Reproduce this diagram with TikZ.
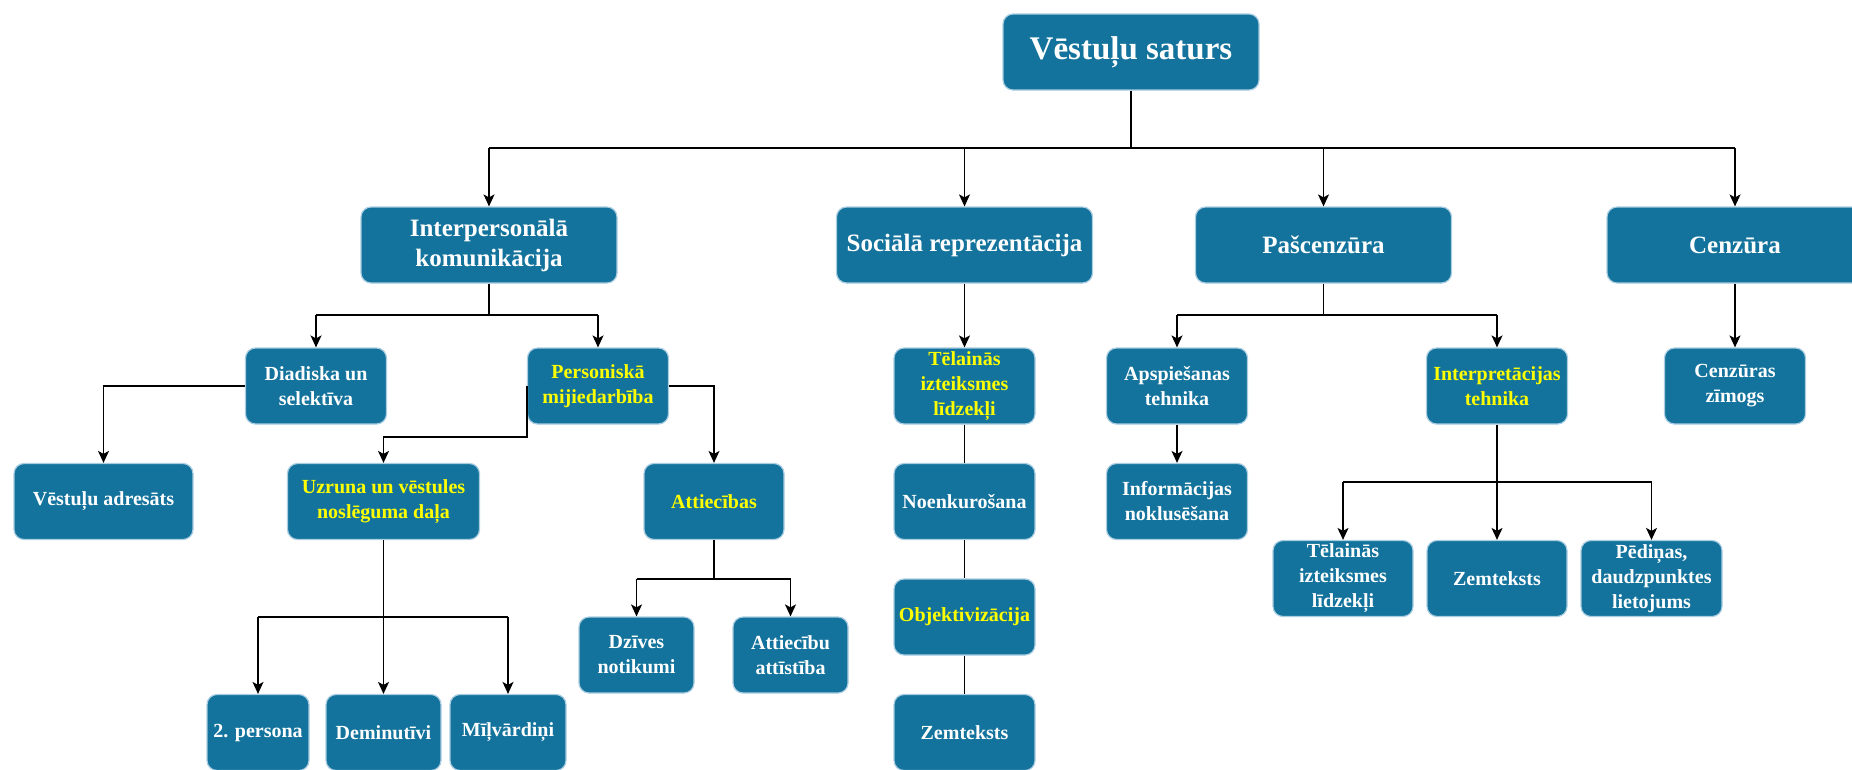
\documentclass[tikz,border=0pt]{standalone}
\usepackage{fontspec}
\setmainfont{Liberation Serif}
\usetikzlibrary{arrows.meta}
\definecolor{boxfill}{RGB}{19,115,156}
\definecolor{boxedge}{RGB}{170,205,225}
\definecolor{hl}{RGB}{255,255,0}
\tikzset{
  box/.style={draw=boxedge, fill=boxfill, rounded corners=10pt, line width=1.2pt,
    text=white, font=\bfseries\fontsize{20}{25}\selectfont, align=center, inner sep=0pt,
    minimum height=76pt},
  big/.style={font=\bfseries\fontsize{25}{30}\selectfont, minimum width=256pt},
  yel/.style={text=hl},
  arr/.style={-{Stealth[length=12pt,width=11pt,inset=3pt]}, line width=1.4pt},
  ln/.style={line width=1.4pt}
}
\begin{document}
\begin{tikzpicture}[x=1pt,y=-1pt]
\useasboundingbox (0,0) rectangle (1852,769);
\clip (0,0) rectangle (1852,769);
% root
\node[box, font=\bfseries\fontsize{33}{38}\selectfont, minimum width=256pt] (root) at (1131,52) {Vēstuļu saturs};
% level 1
\node[box,big] (inter) at (489,245) {Interpersonālā\\komunikācija};
\node[box,big] (soc) at (964.5,245) {Sociālā reprezentācija};
\node[box,big] (pas) at (1323.5,245) {Pašcenzūra};
\node[box,big] (cen) at (1735,245) {Cenzūra};
% level 2
\node[box, minimum width=141pt] (diad) at (316,386) {Diadiska un\\selektīva};
\node[box, yel, minimum width=141pt] (pers) at (598,386) {Personiskā\\mijiedarbība};
\node[box, yel, minimum width=141pt] (tel1) at (964.5,386) {Tēlainās\\izteiksmes\\līdzekļi};
\node[box, minimum width=141pt] (aps) at (1177,386) {Apspiešanas\\tehnika};
\node[box, yel, minimum width=141pt] (interp) at (1497,386) {Interpretācijas\\tehnika};
\node[box, minimum width=141pt] (zim) at (1735,386) {Cenzūras\\zīmogs};
% level 3
\node[box, minimum width=179pt] (adr) at (103.5,501.5) {Vēstuļu adresāts};
\node[box, yel, minimum width=192pt] (uzr) at (383.5,501.5) {Uzruna un vēstules\\noslēguma daļa};
\node[box, yel, minimum width=140pt] (att) at (714,501.5) {Attiecības};
\node[box, minimum width=141pt] (noenk) at (964.5,501.5) {Noenkurošana};
\node[box, minimum width=141pt] (info) at (1177,501.5) {Informācijas\\noklusēšana};
% interpretation children
\node[box, minimum width=140pt] (tel2) at (1343,578.5) {Tēlainās\\izteiksmes\\līdzekļi};
\node[box, minimum width=140pt] (zem2) at (1497,578.5) {Zemteksts};
\node[box, minimum width=141pt] (ped) at (1651.5,578.5) {Pēdiņas,\\daudzpunktes\\lietojums};
% attiecibas children
\node[box, minimum width=115pt] (dz) at (636.5,655) {Dzīves\\notikumi};
\node[box, minimum width=115pt] (attist) at (790.5,655) {Attiecību\\attīstība};
% social column
\node[box, yel, minimum width=141pt] (obj) at (964.5,617) {Objektivizācija};
\node[box, minimum width=141pt] (zem1) at (964.5,732.5) {Zemteksts};
% uzruna children
\node[box, minimum width=102pt] (pers2) at (258,732.5) {2. persona};
\node[box, minimum width=115pt] (dem) at (383.5,732.5) {Deminutīvi};
\node[box, minimum width=116pt] (mil) at (508,732.5) {Mīļvārdiņi};
% bus points
\coordinate (b0) at (1131,148);
\coordinate (b1) at (489,315);
\coordinate (b2) at (1323.5,315);
\coordinate (b3) at (383.5,617);
\coordinate (b4) at (714,579);
\coordinate (b5) at (1497,482);
% connectors: root
\draw[ln] (root.south) -- (b0);
\draw[ln] (inter.north |- b0) -- (cen.north |- b0);
\draw[arr] (inter.north |- b0) -- (inter.north);
\draw[arr] (soc.north |- b0) -- (soc.north);
\draw[arr] (pas.north |- b0) -- (pas.north);
\draw[arr] (cen.north |- b0) -- (cen.north);
% interpersonal
\draw[ln] (inter.south) -- (b1);
\draw[ln] (diad.north |- b1) -- (pers.north |- b1);
\draw[arr] (diad.north |- b1) -- (diad.north);
\draw[arr] (pers.north |- b1) -- (pers.north);
% social
\draw[arr] (soc.south) -- (tel1.north);
\draw[ln] (tel1.south) -- (noenk.north);
\draw[ln] (noenk.south) -- (obj.north);
\draw[ln] (obj.south) -- (zem1.north);
% pascenzura
\draw[ln] (pas.south) -- (b2);
\draw[ln] (aps.north |- b2) -- (interp.north |- b2);
\draw[arr] (aps.north |- b2) -- (aps.north);
\draw[arr] (interp.north |- b2) -- (interp.north);
\draw[arr] (aps.south) -- (info.north);
% cenzura
\draw[arr] (cen.south) -- (zim.north);
% diadiska, personiska
\draw[arr] (diad.west) -| (adr.north);
\draw[arr] (pers.west) -- ++(0,51) -| (uzr.north);
\draw[arr] (pers.east) -| (att.north);
% uzruna
\draw[ln] (uzr.south) -- (b3);
\draw[ln] (pers2.north |- b3) -- (mil.north |- b3);
\draw[arr] (pers2.north |- b3) -- (pers2.north);
\draw[arr] (b3) -- (dem.north);
\draw[arr] (mil.north |- b3) -- (mil.north);
% attiecibas
\draw[ln] (att.south) -- (b4);
\draw[ln] (dz.north |- b4) -- (attist.north |- b4);
\draw[arr] (dz.north |- b4) -- (dz.north);
\draw[arr] (attist.north |- b4) -- (attist.north);
% interpretacijas
\draw[ln] (interp.south) -- (b5);
\draw[ln] (tel2.north |- b5) -- (ped.north |- b5);
\draw[arr] (tel2.north |- b5) -- (tel2.north);
\draw[arr] (b5) -- (zem2.north);
\draw[arr] (ped.north |- b5) -- (ped.north);
\end{tikzpicture}
\end{document}
